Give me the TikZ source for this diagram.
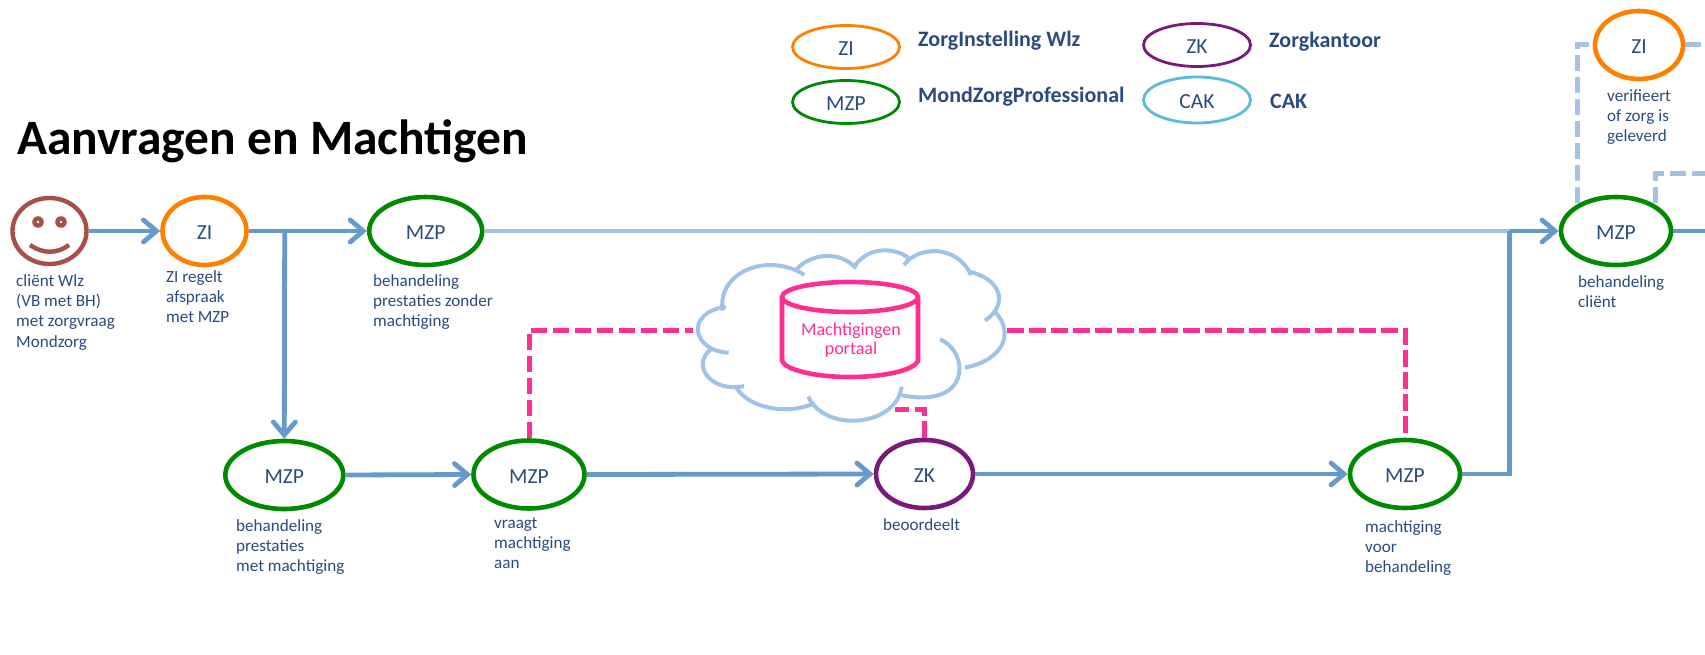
\documentclass[tikz,border=0pt]{standalone}
\usepackage{fontspec}
\setmainfont{Carlito}
\usetikzlibrary{shapes.geometric,arrows.meta}
\definecolor{txtblue}{HTML}{2A4C7D}
\definecolor{flowblue}{HTML}{6699CC}
\definecolor{lightblue}{HTML}{9FC3E9}
\definecolor{dashblue}{HTML}{A6C1E2}
\definecolor{pinkish}{HTML}{FF2F92}
\definecolor{orangeish}{HTML}{FF8000}
\definecolor{greenish}{HTML}{008A00}
\definecolor{purpleish}{HTML}{771B7A}
\definecolor{brownish}{HTML}{A84F4A}
\definecolor{cakblue}{HTML}{5DBBD8}
\newcommand{\lowtext}[1]{\raisebox{-1.6pt}[\height][\depth]{#1}}
\tikzset{
  actor/.style={ellipse,draw,line width=4.6pt,inner sep=0pt,text=txtblue,font=\fontsize{21.5}{24}\selectfont,minimum height=68pt},
  legendoval/.style={ellipse,draw,line width=2.8pt,inner sep=0pt,text=txtblue,font=\fontsize{21.5}{24}\selectfont,minimum width=107pt,minimum height=43pt},
  legendtext/.style={anchor=west,inner sep=0pt,text=txtblue,font=\bfseries\fontsize{22}{26}\selectfont},
  caption/.style={anchor=north west,inner sep=0pt,align=left,text=txtblue,font=\fontsize{17.1}{20}\selectfont},
  flow/.style={line width=4.8pt,color=flowblue},
  flowarrow/.style={flow,-{Straight Barb[length=13pt,width=22pt,line cap=round]}},
  lightflow/.style={line width=4.8pt,color=lightblue},
  pinkdash/.style={line width=5pt,color=pinkish,dash pattern=on 16.5pt off 5.5pt},
  bluedash/.style={line width=5pt,color=dashblue,dash pattern=on 16pt off 6pt},
  cloudline/.style={line width=4pt,color=lightblue,line cap=butt},
}
\begin{document}
\begin{tikzpicture}[x=1pt,y=-1pt]
\useasboundingbox (0,0) rectangle (1705,655);

% title
\node[anchor=west,inner sep=0pt,font=\bfseries\fontsize{49.5}{56}\selectfont] (title) at (17,141) {Aanvragen en Machtigen};

% legend
\node[legendoval,draw=orangeish] (lzi) at (846,47) {\lowtext{ZI}};
\node[legendoval,draw=greenish] (lmzp) at (846,102) {\lowtext{MZP}};
\node[legendoval,draw=purpleish] (lzk) at (1197,45) {\lowtext{ZK}};
\node[legendoval,draw=cakblue,minimum width=107pt,minimum height=46pt] (lcak) at (1197,100) {\lowtext{CAK}};
\node[legendtext] (tzi) at (918,41) {ZorgInstelling Wlz};
\node[legendtext] (tmzp) at (918,97) {MondZorgProfessional};
\node[legendtext] (tzk) at (1269,42) {Zorgkantoor};
\node[legendtext] (tcak) at (1270,101) {CAK};

% client smiley
\node[ellipse,draw=brownish,line width=4.4pt,minimum width=74pt,minimum height=66pt,inner sep=0pt] (client) at (49.5,231) {};
\fill[brownish,even odd rule] (38,222) circle (5.8) (38,222) circle (1.6);
\fill[brownish,even odd rule] (61,222) circle (5.8) (61,222) circle (1.6);
\draw[brownish,line width=4.4pt] (30,245) .. controls (43,254) and (57,254) .. (69,245);

% actors
\node[actor,draw=orangeish,minimum width=84pt] (zi1) at (204.5,231) {\lowtext{ZI}};
\node[actor,draw=greenish,minimum width=113pt] (mzp1) at (425.7,231) {\lowtext{MZP}};
\node[actor,draw=greenish,minimum width=118pt] (mzp2) at (284.3,475) {\lowtext{MZP}};
\node[actor,draw=greenish,minimum width=111pt] (mzp3) at (529,474.5) {\lowtext{MZP}};
\node[actor,draw=purpleish,minimum width=97pt] (zk) at (924.5,474) {\lowtext{ZK}};
\node[actor,draw=greenish,minimum width=110pt] (mzp4) at (1405,474) {\lowtext{MZP}};
\node[actor,draw=greenish,minimum width=110pt] (mzp5) at (1616,231) {\lowtext{MZP}};
\node[actor,draw=orangeish,minimum width=88pt] (zi2) at (1639,45) {\lowtext{ZI}};

% named helpers
\coordinate (jTop) at (284.7,231);
\coordinate (jRight) at (1509.5,231);
\coordinate (cloudL) at (693,330);
\coordinate (cloudR) at (1007,330);
\coordinate (cloudB) at (895,409);
\coordinate (edgeA) at (1705,45);
\coordinate (edgeB) at (1705,174);
\coordinate (edgeC) at (1705,231);

% connectors
\draw[lightflow] (mzp1.east) -- (jRight);
\draw[flowarrow] (client.east) -- (zi1.west);
\draw[flowarrow] (zi1.east) -- (mzp1.west);
\draw[flowarrow] (jTop) -- (mzp2.north);
\draw[flowarrow] (mzp2.east) -- (mzp3.west);
\draw[flowarrow] (mzp3.east) -- (zk.west);
\draw[flowarrow] (zk.east) -- (mzp4.west);
\draw[flow] (mzp4.east) -| (jRight);
\draw[flowarrow] (jRight) -- (mzp5.west);
\draw[flow] (mzp5.east) -- (edgeC);

% dashed connectors
\draw[pinkdash] (mzp3.north) |- (cloudL);
\draw[pinkdash] (cloudR) -| (mzp4.north);
\draw[pinkdash] (zk.north) |- (cloudB);
\draw[bluedash] (1577,203) |- (zi2.west);
\draw[bluedash] (zi2.east) -- (edgeA);
\draw[bluedash] (1655,203) |- (edgeB);

% cloud
\begin{scope}[shift={(670,220)},x=0.3333pt,y=-0.3333pt]
\draw[cloudline] (158,272) .. controls (145,190) and (220,135) .. (300,135) .. controls (340,135) and (380,148) .. (403,165);
\draw[cloudline] (378,150) .. controls (420,100) and (510,90) .. (558,145);
\draw[cloudline] (552,142) .. controls (590,80) and (670,80) .. (715,113);
\draw[cloudline] (702,135) .. controls (740,80) and (860,70) .. (903,165);
\draw[cloudline] (897,155) .. controls (990,175) and (1020,250) .. (945,302);
\draw[cloudline] (975,275) .. controls (1035,340) and (1000,420) .. (885,443);
\draw[cloudline] (810,358) .. controls (900,395) and (905,570) .. (692,525);
\draw[cloudline] (695,500) .. controls (680,620) and (465,640) .. (415,530);
\draw[cloudline] (428,552) .. controls (350,585) and (240,565) .. (200,505);
\draw[cloudline] (222,498) .. controls (130,520) and (60,440) .. (122,388);
\draw[cloudline] (176,398) .. controls (70,395) and (40,280) .. (167,260);
\end{scope}

% cylinder
\draw[pinkish,line width=4.6pt,line join=round] (782,297) -- (782,361) .. controls (786,370) and (815,377) .. (850,377) .. controls (885,377) and (914,370) .. (918,361) -- (918,297);
\draw[pinkish,line width=4.6pt] (850,297) ellipse [x radius=68,y radius=15];
\node[inner sep=0pt,align=center,text=pinkish,font=\fontsize{18}{19}\selectfont] (portal) at (851,340) {Machtigingen\\portaal};

% captions
\node[caption] (c1) at (16,274) {cliënt Wlz\\(VB met BH)\\met zorgvraag\\[1pt]Mondzorg};
\node[caption] (c2) at (166,270.5) {ZI regelt\\afspraak\\met MZP};
\node[caption] (c3) at (373,274.5) {behandeling\\prestaties zonder\\machtiging};
\node[caption] (c4) at (236,519.5) {behandeling\\prestaties\\met machtiging};
\node[caption] (c5) at (494,517.5) {vraagt\\machtiging\\aan};
\node[caption] (c6) at (883,518) {beoordeelt};
\node[caption] (c7) at (1365,520.5) {machtiging\\voor\\behandeling};
\node[caption] (c8) at (1578,275) {behandeling\\cliënt};
\node[caption] (c9) at (1607,89) {verifieert\\of zorg is\\geleverd};
\end{tikzpicture}
\end{document}
